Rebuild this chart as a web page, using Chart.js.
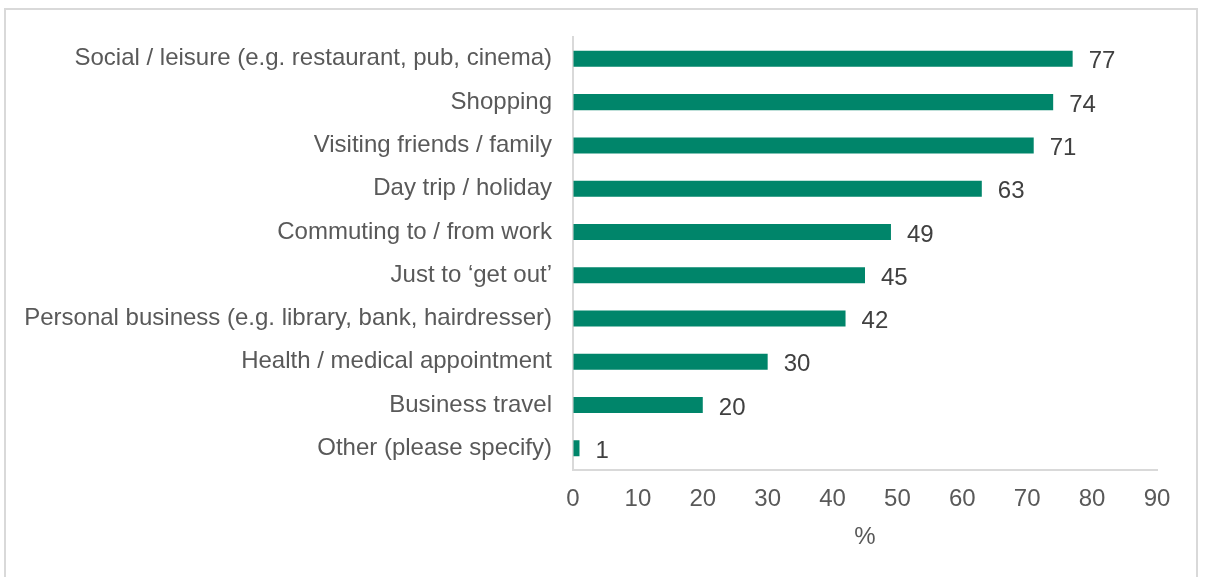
<!DOCTYPE html>
<html lang="en">
<head>
<meta charset="UTF-8">
<title>Journey purposes</title>
<script src="https://cdn.jsdelivr.net/npm/chart.js"></script>
<style>
    html,body{margin:0;padding:0;background:#fff;overflow:hidden}
    .frame{position:absolute;left:4px;top:8px;width:1194px;height:600px;border:2px solid #d9d9d9;border-bottom:none;box-sizing:border-box}
    .wrap{position:absolute;left:0;top:0;width:1208px;height:577px}
</style>
</head>
<body>
<div class="frame"></div>
<div class="wrap"><canvas id="chart"></canvas></div>
<script>
const categories=['Social / leisure (e.g. restaurant, pub, cinema)','Shopping','Visiting friends / family','Day trip / holiday','Commuting to / from work','Just to \u2018get out\u2019','Personal business (e.g. library, bank, hairdresser)','Health / medical appointment','Business travel','Other (please specify)'];
const values=[77,74,71,63,49,45,42,30,20,1];
const xTitle='%';

const barLabels={
    id:'barLabels',
    afterDatasetsDraw(chart){
        const ctx=chart.ctx;
        const meta=chart.getDatasetMeta(0);
        ctx.save();
        ctx.font='24px "Liberation Sans", Arial, sans-serif';
        ctx.fillStyle='#404040';
        ctx.textAlign='left';
        ctx.textBaseline='middle';
        meta.data.forEach((bar,i)=>{ctx.fillText(String(values[i]),bar.x+16,bar.y+3);});
        ctx.restore();
    }
};

Chart.defaults.font.family='"Liberation Sans", Arial, sans-serif';
Chart.defaults.font.size=24;
Chart.defaults.color='#595959';

new Chart(document.getElementById('chart'),{
    type:'bar',
    data:{labels:categories,datasets:[{data:values,backgroundColor:'#00856a',barPercentage:0.37,categoryPercentage:1}]},
    options:{
        indexAxis:'y',responsive:true,maintainAspectRatio:false,animation:false,
        layout:{padding:{left:0,right:51,top:37,bottom:0}},
        plugins:{legend:{display:false},tooltip:{enabled:false}},
        scales:{
            x:{min:0,max:90,ticks:{stepSize:10,padding:15,color:'#595959',font:{size:24}},
               grid:{display:true,drawOnChartArea:false,drawTicks:false},
               border:{display:true,color:'#d9d9d9',width:2},
               title:{display:true,text:xTitle,color:'#595959',font:{size:24},padding:{top:0,bottom:25}},
               afterFit(s){s.height=107;}},
            y:{ticks:{padding:21,color:'#595959',font:{size:24,lineHeight:1.35}},
               grid:{display:true,drawOnChartArea:false,drawTicks:false},
               border:{display:true,color:'#d9d9d9',width:2},
               afterFit(s){s.width=573;}}
        }
    },
    plugins:[barLabels]
});
</script>
</body>
</html>
